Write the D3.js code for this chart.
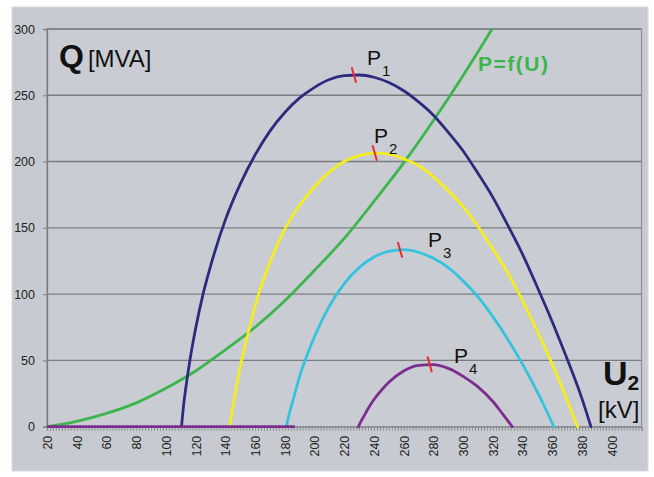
<!DOCTYPE html>
<html>
<head>
<meta charset="utf-8">
<script src="https://cdn.jsdelivr.net/npm/d3@7/dist/d3.min.js"></script>
<style>
  html, body { margin: 0; padding: 0; background: #ffffff; }
  svg { display: block; }
  text { font-family: "Liberation Sans", Arial, sans-serif; }
</style>
</head>
<body>
<svg id="chart" width="654" height="477"></svg>
<script>
// ---------------- DATA ----------------
// U2 [kV] , Q [MVA]
const p1U = [110.5, 112, 114, 116, 120, 125, 130, 140, 150, 160, 170, 180, 190, 200, 210, 220, 230, 240, 250, 260, 270, 280, 290, 300, 310, 320, 330, 340, 350, 360, 370, 380, 386];
const p1Q = [0, 17, 34, 49, 74, 100, 121, 156, 183, 205, 223, 237, 248, 256, 261.9, 264.8, 265.3, 263.6, 259.6, 253.4, 245, 235, 222, 208, 191, 173, 152, 130, 105, 79, 51, 21, 0];

const p2U = [143, 144, 146, 148, 150, 155, 160, 170, 180, 190, 200, 210, 220, 230, 240, 250, 260, 270, 280, 290, 300, 310, 320, 330, 340, 350, 360, 370, 377];
const p2Q = [0, 7.5, 21, 33, 45, 69, 91, 124, 149, 167, 181, 192, 200, 204.5, 206.4, 205.6, 202, 197, 188.5, 178, 166, 151, 134, 116, 95, 72, 47, 20, 0];

const p3U = [181, 182, 184, 186, 190, 195, 200, 210, 220, 230, 240, 250, 260, 270, 280, 290, 300, 310, 320, 330, 340, 350, 355, 361];
const p3Q = [0, 5, 14, 22, 38, 54, 68, 91, 108, 120, 128, 132.3, 133.5, 131.6, 127, 120, 110, 98, 83, 66, 47, 26, 14.5, 0];

const p4U = [229.5, 231, 233, 236, 240, 245, 250, 260, 270, 280, 290, 300, 310, 320, 326, 330, 333];
const p4Q = [0, 3.5, 7.5, 13.5, 20.5, 27.5, 33.5, 42, 46.2, 46.8, 44, 38, 30, 19, 10.5, 4.6, 0];
const p4BaseU = [20, 186];
const p4BaseQ = [0, 0];

const pfU = [20, 40, 60, 80, 100, 120, 140, 160, 180, 200, 220, 240, 260, 280, 300, 320];
const pfQ = [0, 4, 10, 18, 29, 42, 58, 75, 95, 118, 142, 170, 199, 231, 265, 301];

// red marks at the maxima
const markU = [226.5, 240.5, 257.5, 277.5];
const markQ = [265.3, 206.5, 133.5, 47];

const curveNames = ["P1", "P2", "P3", "P4"];
const xTickLabels = d3.range(20, 401, 20);
const yTickLabels = [0, 50, 100, 150, 200, 250, 300];
const xMinorTicks = d3.range(20, 421, 2);

// ---------------- LAYOUT ----------------
const svg = d3.select("#chart");
const plot = { left: 47, right: 641.5, top: 29, bottom: 426.7 };

const x = d3.scaleLinear().domain([20, 420]).range([plot.left, plot.right]);
const y = d3.scaleLinear().domain([0, 300]).range([plot.bottom, plot.top]);

// outer panel
svg.append("rect")
  .attr("x", 12).attr("y", 7).attr("width", 636).attr("height", 464)
  .attr("fill", "#c7cbd1").attr("stroke", "#d6d9dd").attr("stroke-width", 1);

// plot area
svg.append("rect")
  .attr("x", plot.left).attr("y", plot.top)
  .attr("width", plot.right - plot.left).attr("height", plot.bottom - plot.top)
  .attr("fill", "#c9cdd3").attr("stroke", "#8e9094").attr("stroke-width", 1.2);

// gridlines
svg.append("g").selectAll("line")
  .data(yTickLabels.filter(d => d > 0))
  .join("line")
  .attr("x1", plot.left).attr("x2", plot.right)
  .attr("y1", d => y(d)).attr("y2", d => y(d))
  .attr("stroke", "#7b7c7f").attr("stroke-width", 1.4);

// y axis
const yAxis = svg.append("g")
  .attr("transform", `translate(${plot.left},0)`)
  .call(d3.axisLeft(y).tickValues(yTickLabels).tickSize(4).tickPadding(8));
yAxis.select(".domain").attr("stroke", "#7b7c7f").attr("stroke-width", 1.3);
yAxis.selectAll(".tick line").attr("stroke", "#7b7c7f");
yAxis.selectAll(".tick text")
  .attr("font-family", "Liberation Sans, Arial, sans-serif")
  .attr("font-size", 12.5).attr("fill", "#222");

// x axis
const xAxis = svg.append("g")
  .attr("transform", `translate(0,${plot.bottom})`)
  .call(d3.axisBottom(x).tickValues(xMinorTicks).tickSize(4)
    .tickFormat(d => xTickLabels.includes(d) ? String(d) : ""));
xAxis.select(".domain").attr("stroke", "#8a8b8e").attr("stroke-width", 1.3);
xAxis.selectAll(".tick line").attr("stroke", "#8a8b8e");
xAxis.selectAll(".tick text")
  .attr("font-family", "Liberation Sans, Arial, sans-serif")
  .attr("font-size", 12.5).attr("fill", "#222")
  .attr("transform", "rotate(-90)")
  .attr("text-anchor", "end")
  .attr("x", -9).attr("y", 0).attr("dy", "0.35em");

// clip
svg.append("clipPath").attr("id", "clip")
  .append("rect")
  .attr("x", plot.left).attr("y", plot.top)
  .attr("width", plot.right - plot.left).attr("height", plot.bottom - plot.top + 3);

const line = d3.line().x(d => x(d[0])).y(d => y(d[1])).curve(d3.curveMonotoneX);
const zip = (a, b) => a.map((v, i) => [v, b[i]]);

const g = svg.append("g").attr("clip-path", "url(#clip)");

const series = [
  { data: zip(pfU, pfQ), color: "#3cb64b" },
  { data: zip(p1U, p1Q), color: "#2c2b7f" },
  { data: zip(p2U, p2Q), color: "#f6ec1e" },
  { data: zip(p3U, p3Q), color: "#34c3df" },
  { data: zip(p4BaseU, p4BaseQ), color: "#7c2d8d" },
  { data: zip(p4U, p4Q), color: "#7c2d8d" }
];

g.selectAll("path.curve")
  .data(series)
  .join("path")
  .attr("class", "curve")
  .attr("d", d => line(d.data))
  .attr("fill", "none")
  .attr("stroke", d => d.color)
  .attr("stroke-width", 2.8)
  .attr("stroke-linecap", "round");

// red marks at the maxima
svg.append("g").selectAll("line")
  .data(zip(markU, markQ))
  .join("line")
  .attr("x1", d => x(d[0]) - 2.2).attr("y1", d => y(d[1]) - 7.8)
  .attr("x2", d => x(d[0]) + 2.2).attr("y2", d => y(d[1]) + 7.8)
  .attr("stroke", "#ec2a2a").attr("stroke-width", 2);

// curve labels P1..P4
const labelPos = [[367, 65], [374, 143], [428, 247], [454, 363]];
curveNames.forEach((name, i) => {
  const t = svg.append("text")
    .attr("x", labelPos[i][0]).attr("y", labelPos[i][1])
    .attr("font-size", 21).attr("fill", "#111");
  t.append("tspan").text(name[0]);
  t.append("tspan").attr("font-size", 15).attr("dx", 1).attr("dy", 10.5).text(name.slice(1));
});

// P=f(U)
svg.append("text")
  .attr("x", 478).attr("y", 71)
  .attr("font-size", 21).attr("font-weight", "bold")
  .attr("letter-spacing", 1.5)
  .attr("fill", "#3cb64b")
  .text("P=f(U)");

// Q [MVA]
const qt = svg.append("text").attr("x", 59).attr("y", 67).attr("fill", "#111");
qt.append("tspan").attr("font-size", 32).attr("font-weight", "bold").text("Q");
qt.append("tspan").attr("font-size", 24).attr("dx", 4).text("[MVA]");

// U2 [kV]
const ut = svg.append("text").attr("x", 603).attr("y", 385).attr("fill", "#111");
ut.append("tspan").attr("font-size", 34).attr("font-weight", "bold").text("U");
ut.append("tspan").attr("font-size", 21).attr("font-weight", "bold").attr("dy", 5).text("2");
svg.append("text").attr("x", 598).attr("y", 418)
  .attr("font-size", 24).attr("fill", "#111").text("[kV]");
</script>
</body>
</html>
